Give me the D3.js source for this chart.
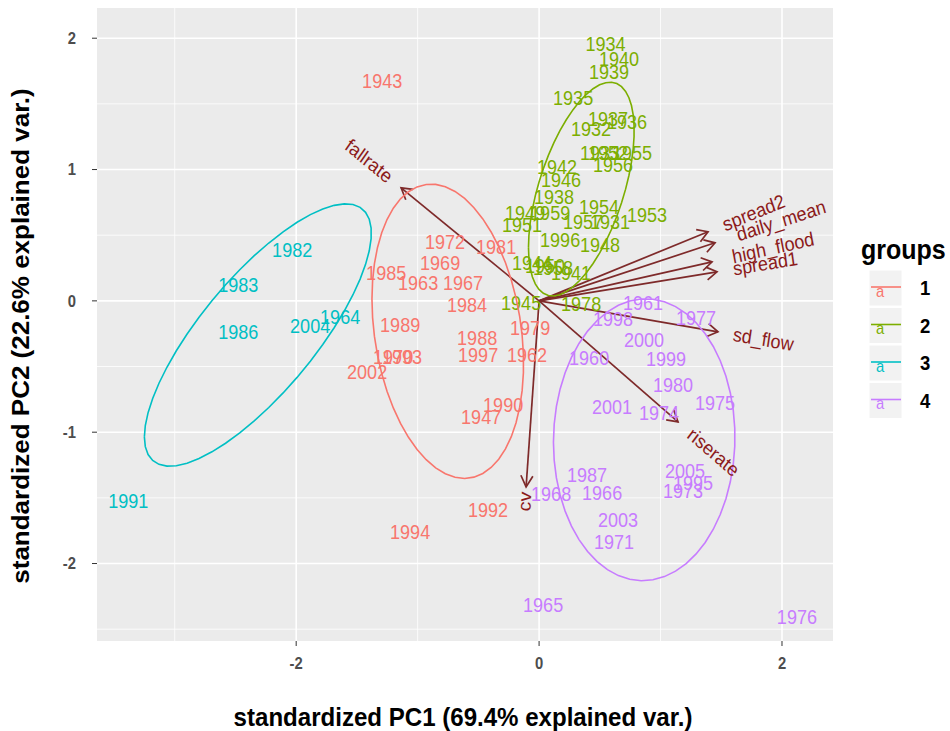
<!DOCTYPE html>
<html><head><meta charset="utf-8">
<script src="https://cdn.jsdelivr.net/npm/d3@7"></script>
<style>
body{margin:0;background:#fff}
text{font-family:"Liberation Sans",Arial,Helvetica,sans-serif}
</style>
</head><body>
<svg id="chart" width="950" height="731"></svg>
<script>
// ---------- data ----------
const years = [
 "1943","1972","1981","1969","1985","1963","1967","1984","1989","1988","1997","1979","1962","1970","1993","2002","1990","1947","1992","1994",
 "1934","1940","1939","1935","1937","1936","1932","1933","1952","1955","1956","1942","1946","1938","1954","1953","1949","1959","1951","1957","1931","1996","1948","1944","1950","1958","1941","1945","1978",
 "1982","1983","1986","2004","1964","1991",
 "1961","1998","1977","2000","1960","1999","1980","1975","2001","1974","1987","2005","1995","1973","1966","1968","2003","1971","1965","1976"];
const pc1 = [
 -1.292,-0.774,-0.354,-0.815,-1.259,-0.996,-0.626,-0.593,-1.144,-0.510,-0.502,-0.074,-0.099,-1.202,-1.128,-1.416,-0.296,-0.477,-0.420,-1.062,
 0.547,0.658,0.576,0.280,0.568,0.724,0.428,0.502,0.568,0.765,0.609,0.148,0.181,0.123,0.494,0.889,-0.115,0.091,-0.140,0.362,0.584,0.173,0.502,-0.058,0.049,0.115,0.263,-0.148,0.346,
 -2.033,-2.477,-2.477,-1.885,-1.638,-3.383,
 0.856,0.609,1.292,0.864,0.412,1.045,1.103,1.449,0.601,0.988,0.395,1.202,1.267,1.185,0.519,0.099,0.650,0.617,0.033,2.123];
const pc2 = [
 1.676,0.452,0.414,0.287,0.213,0.137,0.137,-0.030,-0.183,-0.282,-0.411,-0.206,-0.411,-0.427,-0.427,-0.541,-0.792,-0.884,-1.592,-1.760,
 1.958,1.844,1.745,1.547,1.387,1.364,1.310,1.128,1.128,1.128,1.036,1.021,0.922,0.792,0.716,0.655,0.670,0.670,0.579,0.602,0.602,0.465,0.427,0.290,0.267,0.251,0.213,-0.015,-0.023,
 0.389,0.122,-0.236,-0.190,-0.122,-1.524,
 -0.015,-0.137,-0.130,-0.297,-0.434,-0.442,-0.640,-0.777,-0.808,-0.853,-1.326,-1.295,-1.387,-1.448,-1.463,-1.470,-1.669,-1.836,-2.316,-2.408];
const groups = [
 1,1,1,1,1,1,1,1,1,1,1,1,1,1,1,1,1,1,1,1,
 2,2,2,2,2,2,2,2,2,2,2,2,2,2,2,2,2,2,2,2,2,2,2,2,2,2,2,2,2,
 3,3,3,3,3,3,
 4,4,4,4,4,4,4,4,4,4,4,4,4,4,4,4,4,4,4,4];
const groupNames = ["1","2","3","4"];
const groupColors = ["#F8766D","#7CAE00","#00BFC4","#C77CFF"];

const varNames = ["fallrate","spread2","daily_mean","high_flood","spread1","sd_flow","riserate","cv"];
const varX = [-1.136, 1.391, 1.449, 1.424, 1.465, 1.473, 1.144, -0.107];
const varY = [ 0.861, 0.526, 0.442, 0.297, 0.221, -0.236, -0.922, -1.417];

const xTicks = [-2, 0, 2];
const yTicks = [-2, -1, 0, 1, 2];
const xMinor = [-3, -1, 1];
const yMinor = [-2.5, -1.5, -0.5, 0.5, 1.5];
const xTitle = "standardized PC1 (69.4% explained var.)";
const yTitle = "standardized PC2 (22.6% explained var.)";
const legendTitle = "groups";
const ellipseProb = 0.68;

// ---------- layout ----------
const SX = 0.926; // horizontal squash of the reference picture
const P = {l: 97, r: 833, t: 8, b: 641};
const x = d3.scaleLinear().domain([-3.64, 2.42]).range([P.l, P.r]);
const y = d3.scaleLinear().domain([-2.59, 2.23]).range([P.b, P.t]);

const svg = d3.select("#chart");
svg.append("rect").attr("width",950).attr("height",731).attr("fill","#fff");

// panel
svg.append("rect").attr("x",P.l).attr("y",P.t).attr("width",P.r-P.l).attr("height",P.b-P.t).attr("fill","#EBEBEB");
const grid = svg.append("g");
xMinor.forEach(v=>grid.append("line").attr("x1",x(v)).attr("x2",x(v)).attr("y1",P.t).attr("y2",P.b).attr("stroke","#fff").attr("stroke-width",0.8));
yMinor.forEach(v=>grid.append("line").attr("y1",y(v)).attr("y2",y(v)).attr("x1",P.l).attr("x2",P.r).attr("stroke","#fff").attr("stroke-width",0.8));
xTicks.forEach(v=>grid.append("line").attr("x1",x(v)).attr("x2",x(v)).attr("y1",P.t).attr("y2",P.b).attr("stroke","#fff").attr("stroke-width",1.6));
yTicks.forEach(v=>grid.append("line").attr("y1",y(v)).attr("y2",y(v)).attr("x1",P.l).attr("x2",P.r).attr("stroke","#fff").attr("stroke-width",1.6));

// axes
const ax = svg.append("g");
xTicks.forEach(v=>{
  ax.append("line").attr("x1",x(v)).attr("x2",x(v)).attr("y1",P.b).attr("y2",P.b+5).attr("stroke","#333").attr("stroke-width",1);
  ax.append("text").attr("transform",`translate(${x(v)},${P.b+28}) scale(${SX},1)`).attr("text-anchor","middle")
    .attr("font-size",16).attr("font-weight","bold").attr("fill","#4D4D4D").text(v);
});
yTicks.forEach(v=>{
  ax.append("line").attr("x1",P.l-5).attr("x2",P.l).attr("y1",y(v)).attr("y2",y(v)).attr("stroke","#333").attr("stroke-width",1);
  ax.append("text").attr("transform",`translate(${P.l-21},${y(v)}) scale(${SX},1)`).attr("text-anchor","end").attr("dy","0.36em")
    .attr("font-size",16).attr("font-weight","bold").attr("fill","#4D4D4D").text(v);
});
svg.append("text").attr("transform",`translate(${(P.l+P.r)/2-2},726) scale(${SX},1)`).attr("text-anchor","middle")
  .attr("font-size",26).attr("font-weight","bold").attr("fill","#000").text(xTitle);
svg.append("text").attr("transform",`translate(29,336) scale(${SX},1) rotate(-90)`).attr("text-anchor","middle")
  .attr("font-size",26).attr("font-weight","bold").attr("fill","#000").text(yTitle);

// arrows
const arrowCol = "#7E2A2A";
const ag = svg.append("g");
const x0 = x(0), y0 = y(0);
varNames.forEach((n,i)=>{
  const tx = x(varX[i]), ty = y(varY[i]);
  ag.append("line").attr("x1",x0).attr("y1",y0).attr("x2",tx).attr("y2",ty).attr("stroke",arrowCol).attr("stroke-width",1.7);
  let dx = (tx-x0)/SX, dy = ty-y0; const L = Math.hypot(dx,dy); dx/=L; dy/=L;
  const hl = 12/ SX, a = Math.PI/6;
  const pts = [a,-a].map(t=>{
    const c=Math.cos(t), s=Math.sin(t);
    const rx = -(dx*c - dy*s)*hl, ry = -(dx*s + dy*c)*hl;
    return [tx + rx*SX, ty + ry];
  });
  ag.append("path").attr("d",`M${pts[0][0]},${pts[0][1]}L${tx},${ty}L${pts[1][0]},${pts[1][1]}`)
    .attr("fill","none").attr("stroke",arrowCol).attr("stroke-width",1.7).attr("stroke-linejoin","miter");
});

// point labels
const pg = svg.append("g");
years.forEach((yr,i)=>{
  pg.append("text").attr("transform",`translate(${x(pc1[i])},${y(pc2[i])}) scale(${SX},1)`)
    .attr("text-anchor","middle").attr("dy","0.36em").attr("font-size",19.5)
    .attr("fill",groupColors[groups[i]-1]).text(yr);
});

// ellipses (ggbiplot method: mean + sqrt(qchisq(p,2)) * circle %*% chol(cov))
const ed = Math.sqrt(-2*Math.log(1-ellipseProb));
const line = d3.line();
groupNames.forEach((g,gi)=>{
  const idx = groups.map((v,i)=>v===gi+1?i:-1).filter(i=>i>=0);
  const xs = idx.map(i=>pc1[i]), ys = idx.map(i=>pc2[i]);
  const n = xs.length, mx = d3.mean(xs), my = d3.mean(ys);
  let sxx=0, syy=0, sxy=0;
  for(let k=0;k<n;k++){ sxx+=(xs[k]-mx)**2; syy+=(ys[k]-my)**2; sxy+=(xs[k]-mx)*(ys[k]-my); }
  sxx/=(n-1); syy/=(n-1); sxy/=(n-1);
  const r11=Math.sqrt(sxx), r12=sxy/r11, r22=Math.sqrt(syy - r12*r12);
  const pts=[];
  for(let k=0;k<50;k++){
    const t = -Math.PI + 2*Math.PI*k/49;
    const c=Math.cos(t), s=Math.sin(t);
    pts.push([x(mx + ed*(c*r11)), y(my + ed*(c*r12 + s*r22))]);
  }
  svg.append("path").attr("d",line(pts)).attr("fill","none").attr("stroke",groupColors[gi]).attr("stroke-width",1.6);
});

// variable names
const vg = svg.append("g");
varNames.forEach((n,i)=>{
  const ang = Math.atan(varY[i]/varX[i])*180/Math.PI;
  const hj = (1 - 1.5*Math.sign(varX[i]))/2;
  const t = vg.append("text").attr("transform",`translate(${x(varX[i])},${y(varY[i])}) scale(${SX},1) rotate(${-ang})`)
    .attr("dy","0.32em").attr("font-size",19.5).attr("fill","#8B1A1A").text(n);
  const w = t.node().getComputedTextLength();
  t.attr("x", -hj*w);
});

// legend
const lg = svg.append("g");
lg.append("text").attr("transform",`translate(861,259) scale(${SX},1)`).attr("font-size",27).attr("font-weight","bold").attr("fill","#000").text(legendTitle);
groupNames.forEach((g,i)=>{
  const top = 270 + i*37.5;
  lg.append("rect").attr("x",869).attr("y",top).attr("width",33).attr("height",36).attr("fill","#F2F2F2").attr("stroke","#fff");
  lg.append("line").attr("x1",871).attr("x2",901).attr("y1",top+17).attr("y2",top+17).attr("stroke",groupColors[i]).attr("stroke-width",1.6);
  lg.append("text").attr("transform",`translate(880,${top+22}) scale(${SX},1)`).attr("text-anchor","middle").attr("dy","0.3em")
    .attr("font-size",16).attr("fill",groupColors[i]).text("a");
  lg.append("text").attr("transform",`translate(920,${top+18}) scale(${SX},1)`).attr("dy","0.36em")
    .attr("font-size",20).attr("font-weight","bold").attr("fill","#000").text(g);
});
</script>
</body></html>
